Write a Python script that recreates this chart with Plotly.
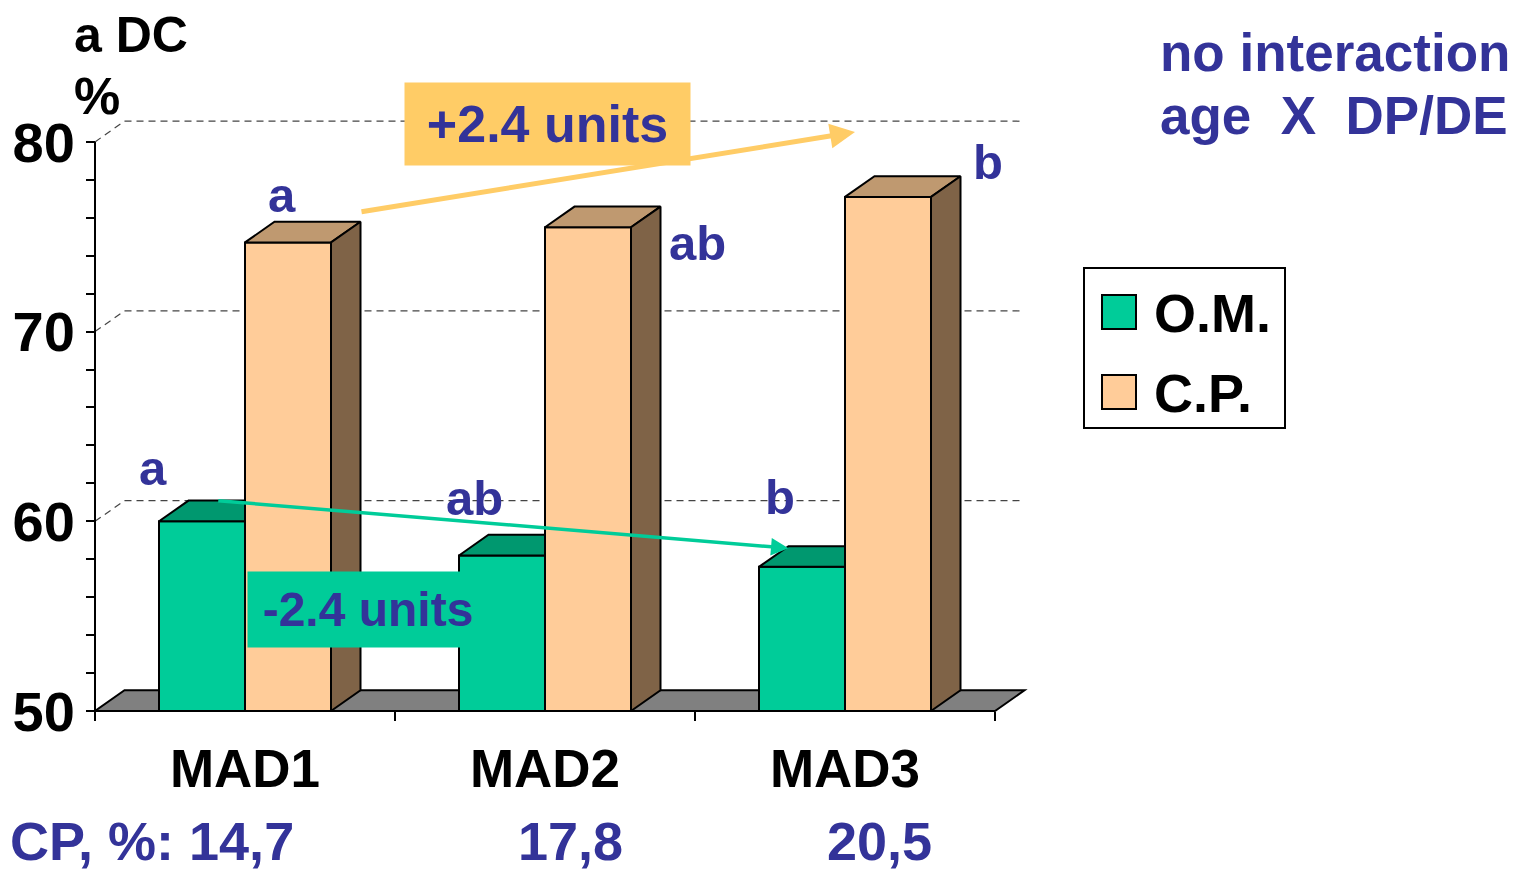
import plotly.graph_objects as go

# ---- data ----
groups = ["MAD1", "MAD2", "MAD3"]
om_values = [60.0, 58.2, 57.6]          # O.M. digestibility, %
cp_values = [74.7, 75.5, 77.1]          # C.P. digestibility, %
om_letters = ["a", "ab", "b"]
cp_letters = ["a", "ab", "b"]
cp_content = ["14,7", "17,8", "20,5"]
y_major = [50, 60, 70, 80]
series_names = ["O.M.", "C.P."]

# ---- styling ----
FONT = "Arial, Liberation Sans, sans-serif"
BLUE = "#333399"
OM_FRONT, OM_TOP = "#00CC99", "#00986F"
CP_FRONT, CP_TOP, CP_SIDE = "#FFCC99", "#BF9970", "#7F6347"
ORANGE = "#FFCC66"

W, H = 1517, 873
PL, PR, PT, PB = 80, 1040, 110, 725      # plot area in pixels
X_PX0, X_UNIT = 95, 300.0                 # pixel of x=-0.5, px per category
Y_PX0, Y_UNIT = 711, 18.97                # pixel of y=50, px per unit

X0 = -0.5 - (X_PX0 - PL) / X_UNIT
X1 = -0.5 + (PR - X_PX0) / X_UNIT
Y0 = 50 - (PB - Y_PX0) / Y_UNIT
Y1 = 50 + (Y_PX0 - PT) / Y_UNIT

DX = 29.5 / X_UNIT        # depth offset of the 3-D boxes
DY = 20.7 / Y_UNIT
BW = 86 / X_UNIT          # bar width
BASE = 50
XL, XR = -0.5, len(groups) - 0.5


def dx(px):
    return -0.5 + (px - X_PX0) / X_UNIT


def dy(py):
    return 50 + (Y_PX0 - py) / Y_UNIT


def paper_x(px):
    return (px - PL) / (PR - PL)


def paper_y(py):
    return (PB - py) / (PB - PT)


fig = go.Figure()

# front faces
fig.add_bar(x=list(range(len(groups))), y=[v - BASE for v in om_values], base=BASE,
            width=BW, offset=-BW, name=series_names[0], showlegend=False,
            marker=dict(color=OM_FRONT, line=dict(color="black", width=2)))
fig.add_bar(x=list(range(len(groups))), y=[v - BASE for v in cp_values], base=BASE,
            width=BW, offset=0, name=series_names[1], showlegend=False,
            marker=dict(color=CP_FRONT, line=dict(color="black", width=2)))


def polys(pts_list):
    xs, ys = [], []
    for pts in pts_list:
        for (a, b) in pts + [pts[0]]:
            xs.append(a)
            ys.append(b)
        xs.append(None)
        ys.append(None)
    return xs, ys


# O.M. tops (the part not hidden by the C.P. box next to it)
om_tops = []
for i, v in enumerate(om_values):
    x0, x1 = i - BW, i
    om_tops.append([(x0, v), (x1, v), (x1, v + DY), (x0 + DX, v + DY)])
xs, ys = polys(om_tops)
fig.add_scatter(x=xs, y=ys, mode="lines", fill="toself", fillcolor=OM_TOP,
                line=dict(color="black", width=2), hoverinfo="skip", showlegend=False)

# C.P. tops and sides
cp_tops, cp_sides = [], []
for i, v in enumerate(cp_values):
    x0, x1 = i, i + BW
    cp_tops.append([(x0, v), (x1, v), (x1 + DX, v + DY), (x0 + DX, v + DY)])
    cp_sides.append([(x1, BASE), (x1 + DX, BASE + DY), (x1 + DX, v + DY), (x1, v)])
xs, ys = polys(cp_tops)
fig.add_scatter(x=xs, y=ys, mode="lines", fill="toself", fillcolor=CP_TOP,
                line=dict(color="black", width=2), hoverinfo="skip", showlegend=False)
xs, ys = polys(cp_sides)
fig.add_scatter(x=xs, y=ys, mode="lines", fill="toself", fillcolor=CP_SIDE,
                line=dict(color="black", width=2), hoverinfo="skip", showlegend=False)

shapes = []
# floor
shapes.append(dict(type="path", xref="x", yref="y", layer="below",
                   path=f"M {XL},{BASE} L {XR},{BASE} L {XR + DX},{BASE + DY} L {XL + DX},{BASE + DY} Z",
                   fillcolor="#808080", line=dict(color="black", width=2)))
# back-wall gridlines
for v in y_major[1:]:
    shapes.append(dict(type="line", xref="x", yref="y", layer="below",
                       x0=XL + DX, y0=v + DY, x1=XR + DX, y1=v + DY,
                       line=dict(color="#444444", width=1.2, dash="7px,5px")))
    shapes.append(dict(type="line", xref="x", yref="y", layer="below",
                       x0=XL, y0=v, x1=XL + DX, y1=v + DY,
                       line=dict(color="#444444", width=1.2, dash="7px,5px")))
# axis lines
shapes.append(dict(type="line", xref="x", yref="y", x0=XL, y0=BASE, x1=XL, y1=y_major[-1],
                   line=dict(color="black", width=2)))
shapes.append(dict(type="line", xref="x", yref="y", x0=XL, y0=BASE, x1=XR, y1=BASE,
                   line=dict(color="black", width=2)))

# legend box
shapes.append(dict(type="rect", xref="paper", yref="paper",
                   x0=paper_x(1084), x1=paper_x(1285), y0=paper_y(428), y1=paper_y(268),
                   line=dict(color="black", width=2), fillcolor="white"))
for k, (col, yc) in enumerate([(OM_FRONT, 312), (CP_FRONT, 392)]):
    shapes.append(dict(type="rect", xref="paper", yref="paper",
                       x0=paper_x(1102), x1=paper_x(1136), y0=paper_y(yc + 17), y1=paper_y(yc - 17),
                       line=dict(color="black", width=2), fillcolor=col))

ann = []


def text(t, x, y, size, color=BLUE, xanchor="center", xref="x", yref="y", yanchor="middle", **kw):
    ann.append(dict(text=t, x=x, y=y, xref=xref, yref=yref, xanchor=xanchor, yanchor=yanchor,
                    showarrow=False, font=dict(family=FONT, size=size, color=color, weight="bold"), **kw))


# legend labels
text(series_names[0], paper_x(1152), paper_y(313), 54, color="black", xanchor="left", xref="paper", yref="paper")
text(series_names[1], paper_x(1152), paper_y(393), 54, color="black", xanchor="left", xref="paper", yref="paper")

# arrows showing the change from MAD1 to MAD3
ann.append(dict(x=dx(855), y=dy(132), ax=dx(360), ay=dy(212), xref="x", yref="y", axref="x", ayref="y",
                showarrow=True, arrowhead=2, arrowsize=1.0, arrowwidth=5, arrowcolor=ORANGE, text=""))
ann.append(dict(x=2 - BW + DX, y=om_values[2] + 0.9 * DY,
                ax=-BW / 2 + DX / 2, ay=om_values[0] + DY,
                xref="x", yref="y", axref="x", ayref="y",
                showarrow=True, arrowhead=2, arrowsize=1.0, arrowwidth=3.5, arrowcolor=OM_FRONT, text=""))

# change boxes
cp_change = round(cp_values[2] - cp_values[0], 1)
om_change = round(om_values[2] - om_values[0], 1)
ann.append(dict(text=f"+{cp_change} units", x=dx(547.5), y=dy(124), xref="x", yref="y",
                showarrow=False, width=285, height=82, bgcolor=ORANGE, borderpad=0,
                font=dict(family=FONT, size=52, color=BLUE, weight="bold")))
ann.append(dict(text=f"{om_change} units", x=dx(368), y=dy(609.5), xref="x", yref="y",
                showarrow=False, width=240, height=75, bgcolor=OM_FRONT, borderpad=0,
                font=dict(family=FONT, size=48, color=BLUE, weight="bold")))

# significance letters
om_letter_pos = [(153, 468), (474, 498), (780, 497)]
cp_letter_pos = [(282, 195), (697, 243), (988, 162)]
for t, (px, py) in zip(om_letters, om_letter_pos):
    text(t, dx(px), dy(py), 49)
for t, (px, py) in zip(cp_letters, cp_letter_pos):
    text(t, dx(px), dy(py), 49)

# axis title
text("a DC", paper_x(72), paper_y(35), 50, color="black", xanchor="left", xref="paper", yref="paper")
text("%", paper_x(72), paper_y(96), 52, color="black", xanchor="left", xref="paper", yref="paper")

# note
text("no interaction", paper_x(1158), paper_y(52), 53, xanchor="left", xref="paper", yref="paper")
text("age\u00a0\u00a0X\u00a0\u00a0DP/DE", paper_x(1158), paper_y(115), 53, xanchor="left", xref="paper", yref="paper")

# crude-protein content of each diet
text(f"CP, %: {cp_content[0]}", paper_x(9), paper_y(872), 54, xanchor="left",
     xref="paper", yref="paper", yanchor="bottom", borderpad=0)
for t, px in zip(cp_content[1:], [570, 879]):
    text(t, paper_x(px), paper_y(872), 54, xref="paper", yref="paper", yanchor="bottom", borderpad=0)

minor_y = [v for v in range(y_major[0], y_major[-1] + 1, 2) if v not in y_major]

fig.update_layout(
    width=W, height=H,
    margin=dict(l=PL, r=W - PR, t=PT, b=H - PB, pad=0, autoexpand=False),
    paper_bgcolor="white", plot_bgcolor="rgba(0,0,0,0)",
    barmode="overlay", showlegend=False,
    shapes=shapes, annotations=ann,
    xaxis=dict(range=[X0, X1], domain=[0, 1], anchor="free", position=paper_y(Y_PX0),
               automargin=False,
               showgrid=False, zeroline=False, showline=False,
               tickmode="array", tickvals=list(range(len(groups))), ticktext=groups,
               ticks="", ticklabelstandoff=22,
               tickfont=dict(family=FONT, size=53, color="black", weight="bold"),
               minor=dict(tickmode="array", tickvals=[XL + k for k in range(len(groups) + 1)],
                          ticks="outside", ticklen=9, tickwidth=2, tickcolor="black", showgrid=False)),
    yaxis=dict(range=[Y0, Y1], domain=[0, 1], anchor="free", position=paper_x(X_PX0),
               automargin=False,
               showgrid=False, zeroline=False, showline=False,
               tickmode="array", tickvals=y_major,
               ticks="outside", ticklen=9, tickwidth=2, tickcolor="black", ticklabelstandoff=0,
               tickfont=dict(family=FONT, size=56, color="black", weight="bold"),
               minor=dict(tickmode="array", tickvals=minor_y,
                          ticks="outside", ticklen=9, tickwidth=2, tickcolor="black", showgrid=False)),
)

fig.write_html("out.html")
